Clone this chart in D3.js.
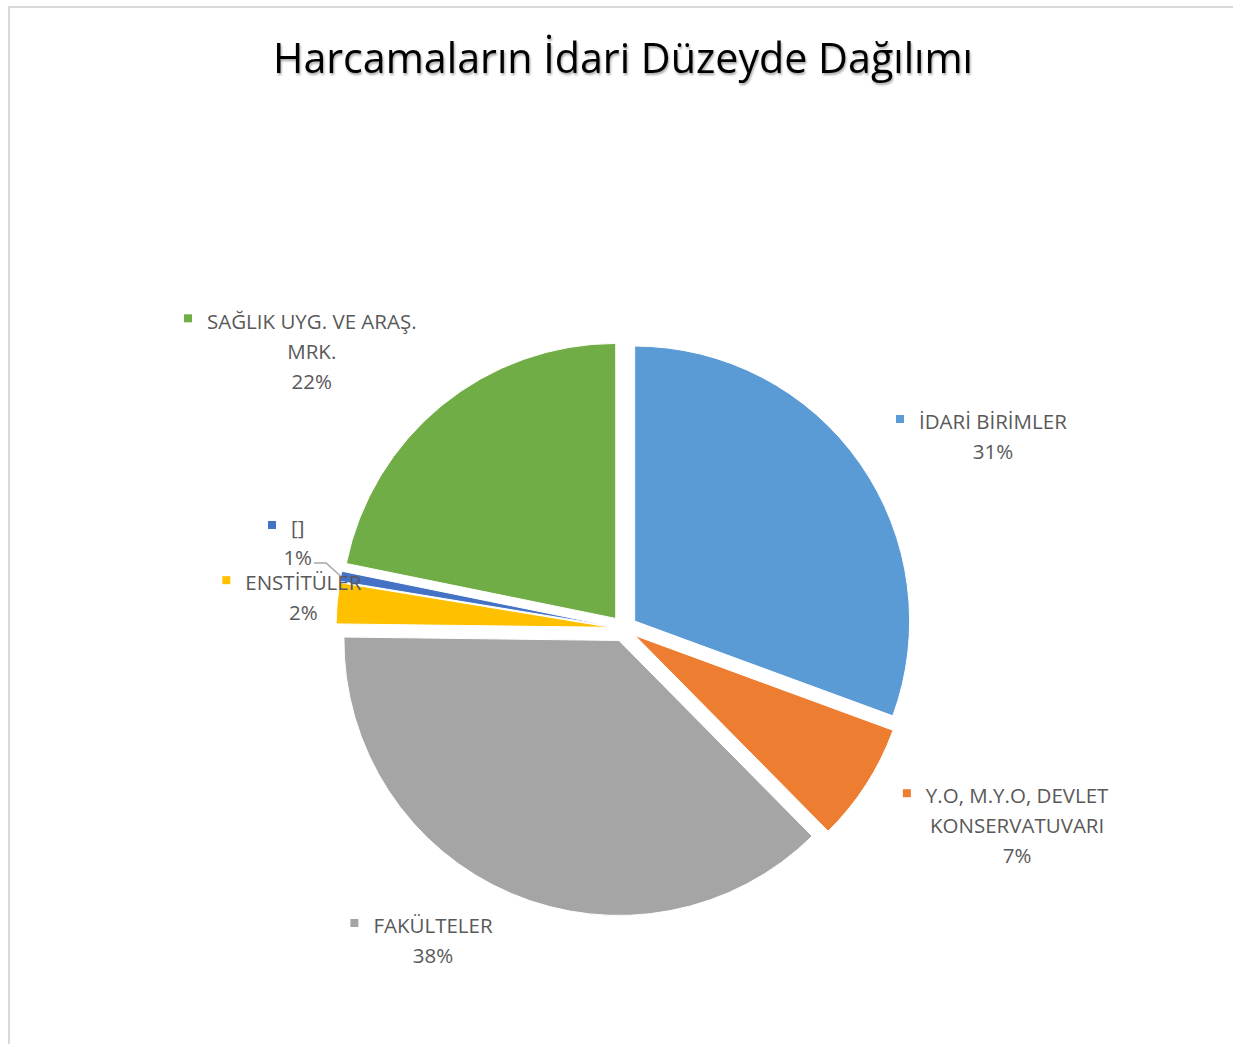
<!DOCTYPE html>
<html>
<head>
<meta charset="utf-8">
<script src="https://cdn.jsdelivr.net/npm/d3@7"></script>
<style>
  body { margin: 0; background: #fff; }
  svg { display: block; }
</style>
</head>
<body>
<svg id="chart" width="1233" height="1044"></svg>
<script>
// data (clockwise from 12 o'clock)
var categories = ["İDARİ BİRİMLER", "Y.O, M.Y.O, DEVLET KONSERVATUVARI", "FAKÜLTELER", "ENSTİTÜLER", "[]", "SAĞLIK UYG. VE ARAŞ. MRK."];
var shares = [30.6, 7.0, 37.6, 2.4, 0.6, 21.8];
var labelLines = [
  ["İDARİ BİRİMLER"],
  ["Y.O, M.Y.O, DEVLET", "KONSERVATUVARI"],
  ["FAKÜLTELER"],
  ["ENSTİTÜLER"],
  ["[]"],
  ["SAĞLIK UYG. VE ARAŞ.", "MRK."]
];
var colors = ["#5b9bd5", "#ed7d31", "#a5a5a5", "#ffc000", "#4472c4", "#70ad47"];

// layout
var cx = 624, cy = 628.5, radius = 275, explode = 13, labelR = 345;
var lineH = 30;
// nudges for data labels (Excel best-fit placement)
var labelNudge = [[86, 4], [103, 9], [-56, -7], [23, -2], [13, -25], [-94, -12]];

var svg = d3.select("#chart");

// drop shadow for the title
var defs = svg.append("defs");
var f = defs.append("filter").attr("id", "tshadow").attr("x", "-5%").attr("y", "-20%").attr("width", "110%").attr("height", "150%");
f.append("feDropShadow").attr("dx", 1).attr("dy", 2).attr("stdDeviation", 1.2).attr("flood-color", "#000").attr("flood-opacity", 0.35);

// chart area border
svg.append("rect")
    .attr("x", 9).attr("y", 7)
    .attr("width", 1400).attr("height", 1200)
    .attr("fill", "#fff")
    .attr("stroke", "#d9d9d9")
    .attr("stroke-width", 2);

svg.append("text")
    .attr("x", 623).attr("y", 73)
    .attr("text-anchor", "middle")
    .attr("font-family", "'Open Sans', 'Noto Sans', sans-serif")
    .attr("font-size", 42)
    .attr("textLength", 700)
    .attr("lengthAdjust", "spacingAndGlyphs")
    .attr("fill", "#000")
    .attr("filter", "url(#tshadow)")
    .text("Harcamaların İdari Düzeyde Dağılımı");

var pie = d3.pie().sort(null).value(function(d) { return d; });
var arcs = pie(shares);
var arc = d3.arc().innerRadius(0).outerRadius(radius);
var labelArc = d3.arc().innerRadius(labelR).outerRadius(labelR);

function offset(d, dist) {
  var a = (d.startAngle + d.endAngle) / 2;
  return [Math.sin(a) * dist, -Math.cos(a) * dist];
}

var g = svg.append("g").attr("transform", "translate(" + cx + "," + cy + ")");

g.selectAll("path.slice")
  .data(arcs)
  .enter().append("path")
    .attr("class", "slice")
    .attr("d", arc)
    .attr("fill", function(d, i) { return colors[i]; })
    .attr("stroke", "#fff")
    .attr("stroke-width", 1)
    .attr("transform", function(d) { var o = offset(d, explode); return "translate(" + o[0] + "," + o[1] + ")"; });

// labels
var total = d3.sum(shares);
var font = "'Open Sans', 'Noto Sans', sans-serif";

arcs.forEach(function(d, i) {
  var c = labelArc.centroid(d);
  var lx = c[0] + labelNudge[i][0];
  var lines = labelLines[i].concat([Math.round(d.data / total * 100) + "%"]);
  var ly = c[1] + labelNudge[i][1] - (lines.length - 1) * lineH / 2;

  var lg = g.append("g").attr("class", "label");
  lines.forEach(function(t, k) {
    lg.append("text")
        .attr("x", lx).attr("y", ly + k * lineH)
        .attr("dy", "0.45em")
        .attr("text-anchor", "middle")
        .attr("font-family", font)
        .attr("font-size", 20.5)
        .attr("fill", "#595959")
        .text(t);
  });
  // legend key in front of first line
  var first = lg.select("text").node().getBBox();
  lg.append("rect")
      .attr("x", first.x - 23).attr("y", ly - 5)
      .attr("width", 8).attr("height", 8)
      .attr("fill", colors[i]);

  // leader line for the tiny slice
  if (d.data < 1) {
    var last = lg.selectAll("text").nodes()[lines.length - 1].getBBox();
    var o = offset(d, explode);
    var p = offset(d, radius);
    var sx = last.x + last.width + 2, sy = ly + lineH + 7;
    g.append("polyline")
        .attr("points", [[sx, sy], [sx + 12, sy], [o[0] + p[0], o[1] + p[1]]].map(function(q) { return q.join(","); }).join(" "))
        .attr("fill", "none")
        .attr("stroke", "#a6a6a6")
        .attr("stroke-width", 1.5);
  }
});
</script>
</body>
</html>
